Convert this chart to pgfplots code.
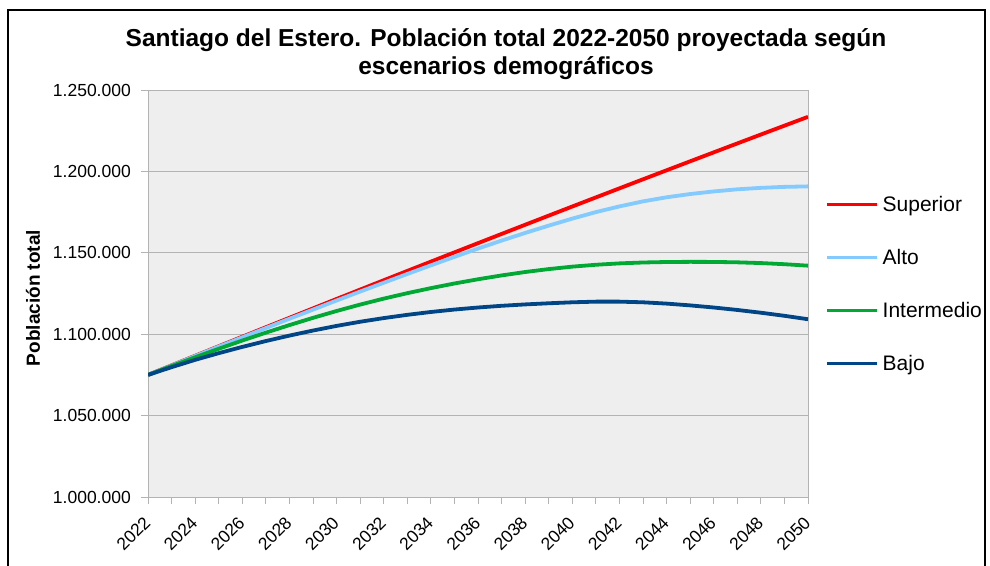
\documentclass[border=0pt]{standalone}
\usepackage{fontspec}
\setmainfont{Liberation Sans}
\usepackage{pgfplots}
\usepackage{pgfplotstable}
\pgfplotsset{compat=1.18}
\definecolor{csup}{HTML}{FF0000}
\definecolor{calt}{HTML}{83CAFF}
\definecolor{cint}{HTML}{00A933}
\definecolor{cbaj}{HTML}{004586}
\definecolor{gridc}{HTML}{B3B3B3}
\definecolor{bgc}{HTML}{EEEEEE}
\pgfplotstableread{
year sup alt int baj
2022 1075000 1075000 1075000 1075000
2023 1080892 1080800 1080500 1079750
2024 1086766 1086600 1085850 1084250
2025 1092624 1092400 1091050 1088350
2026 1098464 1098100 1096100 1092200
2027 1104288 1103800 1100950 1095800
2028 1110094 1109500 1105600 1099150
2029 1115884 1115100 1110050 1102250
2030 1121656 1120700 1114250 1105100
2031 1127412 1126200 1118200 1107650
2032 1133150 1131600 1121850 1109900
2033 1138872 1137000 1125200 1111900
2034 1144576 1142300 1128300 1113650
2035 1150264 1147500 1131150 1115150
2036 1155934 1152600 1133750 1116400
2037 1161588 1157500 1136100 1117450
2038 1167224 1162200 1138200 1118300
2039 1172844 1166700 1140000 1119000
2040 1178446 1171000 1141500 1119600
2041 1184032 1175000 1142650 1120000
2042 1189600 1178500 1143500 1120000
2043 1195152 1181600 1144050 1119600
2044 1200686 1184100 1144350 1118800
2045 1206204 1186100 1144450 1117700
2046 1211704 1187700 1144400 1116400
2047 1217188 1189000 1144150 1114900
2048 1222654 1189900 1143700 1113200
2049 1228104 1190500 1143000 1111300
2050 1233536 1190800 1142100 1109200
}\datatable
\begin{document}
\begin{tikzpicture}[x=1pt,y=1pt]
\path[use as bounding box] (0pt,0pt) rectangle (990pt,-565pt);
\begin{scope}
\clip (0pt,0pt) rectangle (990pt,-565pt);
\draw[line width=1.5pt] (8pt,-10pt) rectangle (985pt,-620pt);
\end{scope}
\node[font=\bfseries\fontsize{24.5}{28}\selectfont, anchor=base] at (506pt,-46pt) {Santiago del Estero. Población total 2022-2050 proyectada según};
\node[font=\bfseries\fontsize{24.5}{28}\selectfont, anchor=base] at (506pt,-74pt) {escenarios demográficos};
\begin{axis}[
  at={(148pt,-497pt)}, anchor=south west,
  scale only axis, width=660pt, height=407pt,
  xmin=2022, xmax=2050, ymin=1000000, ymax=1250000,
  axis background/.style={fill=bgc},
  axis line style={gridc, line width=1pt},
  xtick={2022,2024,...,2050}, minor xtick={2023,2025,...,2049},
  ytick={1000000,1050000,...,1250000},
  ymajorgrids, grid style={gridc, line width=1pt},
  tick align=outside, major tick length=7pt, minor tick length=7pt,
  tick style={gridc, line width=1pt},
  xtick pos=bottom, ytick pos=left,
  scaled y ticks=false,
  ticklabel style={font=\fontsize{17.5}{20}\selectfont},
  xticklabel shift=15pt,
  xticklabel style={rotate=45, anchor=east, inner sep=1pt, /pgf/number format/1000 sep={}, /pgf/number format/assume math mode=true},
  yticklabel style={inner sep=2pt, xshift=-8pt, /pgf/number format/fixed, /pgf/number format/1000 sep={.}, /pgf/number format/assume math mode=true},
  ylabel={Población total},
  ylabel style={font=\bfseries\fontsize{19}{22}\selectfont, at={(axis description cs:-0.1742,0.489)}, anchor=center},
  legend style={at={(axis description cs:1.0212,0.519)}, anchor=west, draw=none, fill=none,
    font=\fontsize{21}{25}\selectfont, row sep=33pt, /tikz/column sep=4pt,
    nodes={inner sep=0pt, text height=15pt, text depth=5pt}},
  legend cell align=left,
  legend image code/.code={\draw[#1, line width=3.5pt] (0pt,2pt) -- (50pt,2pt);},
  every axis plot/.append style={line width=3.8pt},
]
\addplot[csup] table[x=year, y=sup] {\datatable};
\addlegendentry{Superior}
\addplot[calt] table[x=year, y=alt] {\datatable};
\addlegendentry{Alto}
\addplot[cint] table[x=year, y=int] {\datatable};
\addlegendentry{Intermedio}
\addplot[cbaj] table[x=year, y=baj] {\datatable};
\addlegendentry{Bajo}
\end{axis}
\end{tikzpicture}
\end{document}
